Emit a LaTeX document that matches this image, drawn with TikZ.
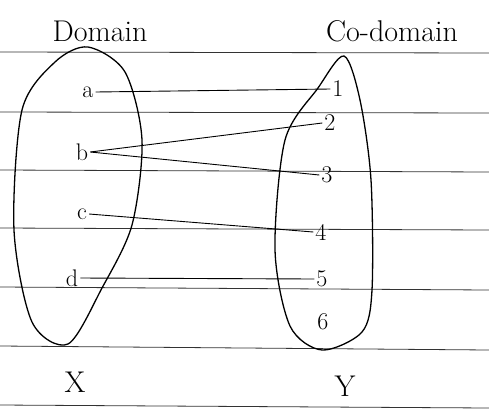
\documentclass[tikz,border=0pt]{standalone}
\begin{document}
\begin{tikzpicture}[x=1pt,y=-1pt,
  rule/.style={line width=0.8pt,black!80},
  setline/.style={line width=1.3pt},
  maparrow/.style={line width=0.9pt},
  lbl/.style={font=\fontsize{30}{34}\selectfont,inner sep=1pt},
  elem/.style={font=\fontsize{24}{28}\selectfont,inner sep=2pt}]
\useasboundingbox (0,0) rectangle (489,410);
\fill[white] (0,0) rectangle (489,410);
% ruled paper lines
\draw[rule] (0,52) -- (489,53);
\draw[rule] (0,112) -- (489,113);
\draw[rule] (0,170) -- (489,172);
\draw[rule] (0,228) -- (489,230);
\draw[rule] (0,287) -- (489,290);
\draw[rule] (0,346) -- (489,350);
\draw[rule] (0,405) -- (489,408);
% sets
\draw[setline] plot[smooth cycle] coordinates {(88,47) (125,72) (142,140) (132,225) (102,288) (68,344) (32,322) (14,230) (22,110) (55,62)};
\draw[setline] plot[smooth cycle] coordinates {(344,56) (360,100) (371,180) (372,290) (362,332) (322,350) (290,326) (275,250) (285,140) (318,88)};
% titles
\node[lbl] (dom) at (100,31) {Domain};
\node[lbl] (cod) at (392,31) {Co-domain};
\node[lbl] (X) at (75,382) {X};
\node[lbl] (Y) at (345,386) {Y};
% elements
\node[elem] (a) at (88,92) {a};
\node[elem] (b) at (82,152) {b};
\node[elem] (c) at (82,214) {c};
\node[elem] (d) at (72,278) {d};
\node[elem] (n1) at (338,89) {1};
\node[elem] (n2) at (330,123) {2};
\node[elem] (n3) at (327,175) {3};
\node[elem] (n4) at (321,232) {4};
\node[elem] (n5) at (322,279) {5};
\node[elem] (n6) at (323,322) {6};
% mappings
\draw[maparrow] (a.east) -- (n1.west);
\draw[maparrow] (b.east) -- (n2.west);
\draw[maparrow] (b.east) -- (n3.west);
\draw[maparrow] (c.east) -- (n4.west);
\draw[maparrow] (d.east) -- (n5.west);
\end{tikzpicture}
\end{document}
